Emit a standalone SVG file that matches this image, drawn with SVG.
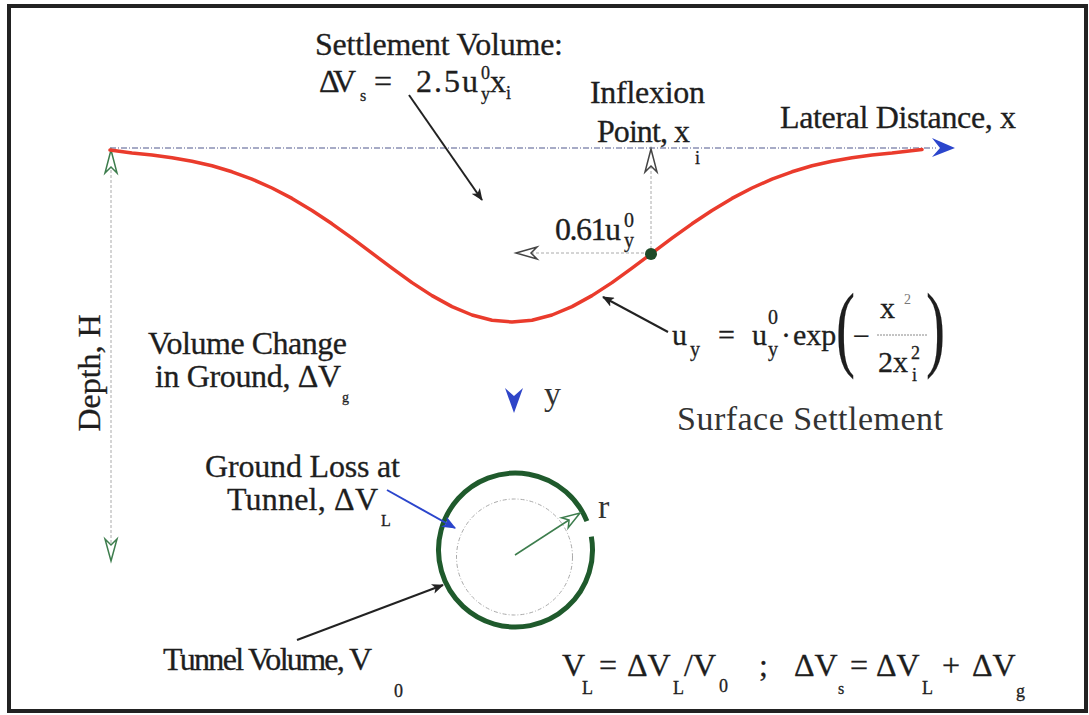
<svg xmlns="http://www.w3.org/2000/svg" width="1089" height="715" viewBox="0 0 1089 715">
<style>
.t{font-family:"Liberation Serif","Times New Roman",serif;font-size:30px;fill:#1e1e1e;stroke:#1e1e1e;stroke-width:0.3}
.l{font-size:32px}
.s{font-size:18px}
.s14{font-size:14px}
.s16{font-size:16px}
.s20{font-size:20px}
.par{font-size:95px;stroke-width:0.2}
.c{font-family:"Liberation Serif","Times New Roman",serif;font-size:34px;fill:#333}
.ld{stroke:#222;stroke-width:2;fill:none}
.open{fill:#fff;stroke:#444;stroke-width:1.5}
.openg{fill:#fff;stroke:#3d7d4d;stroke-width:1.5}
</style>
<defs>
<marker id="ab" viewBox="0 0 12 10" refX="11" refY="5" markerWidth="12" markerHeight="10" markerUnits="userSpaceOnUse" orient="auto">
<path d="M0,0 L12,5 L0,10 L3,5 z" fill="#222"/>
</marker>
<marker id="abl" viewBox="0 0 12 10" refX="11" refY="5" markerWidth="14" markerHeight="12" markerUnits="userSpaceOnUse" orient="auto">
<path d="M0,0 L12,5 L0,10 L3,5 z" fill="#2b45cc"/>
</marker>
</defs>
<rect x="0" y="0" width="1089" height="715" fill="#fff"/>
<rect x="9" y="6" width="1077" height="705" fill="#fff" stroke="#222" stroke-width="4"/>

<g id="axes">
<line x1="110" y1="148" x2="936" y2="148" stroke="#8a90b4" stroke-width="1.3" stroke-dasharray="6 2 1 2"/>
<polygon points="932,138 955,148 932,157 940,148" fill="#2b45cc"/>
<line x1="111" y1="150" x2="111" y2="560" stroke="#aaa" stroke-width="1" stroke-dasharray="3 2"/>
<polygon class="openg" points="111,150 117,173 111,167 105,173"/>
<polygon class="openg" points="111,561 117,539 111,545 105,539"/>
<text class="t l" transform="translate(100,373) rotate(-90)" text-anchor="middle" textLength="117">Depth, H</text>
<polygon points="505,388 514,396 523,388 514,413" fill="#2f45c8"/>
<text class="c" x="544" y="405">y</text>
<text class="t l" x="780" y="128" textLength="236">Lateral Distance, x</text>
</g>

<g id="curve">
<path d="M110,150 L132,153.1 L152,155 L172,157.7 L192,161.2 L212,165.8 L232,171.8 L252,179.1 L272,188 L292,198.4 L312,210.5 L332,223.8 L352,238.2 L372,253.2 L392,268.2 L412,282.6 L432,295.6 L452,306.6 L472,315 L492,320.2 L512,322 L532,320.2 L552,315 L572,306.6 L592,295.6 L612,282.6 L632,268.2 L652,253.2 L672,238.2 L692,223.8 L712,210.5 L732,198.4 L752,188 L772,179.1 L792,171.8 L812,165.8 L832,161.2 L852,157.7 L872,155 L892,153.1 L922,149.5" fill="none" stroke="#ea3b2c" stroke-width="3.5" stroke-linejoin="round" stroke-linecap="round"/>
</g>

<g id="inflexion">
<line x1="651" y1="166" x2="651" y2="254" stroke="#aaa" stroke-width="1" stroke-dasharray="3 2"/>
<polygon class="open" points="651,149 657,172 651,166 645,172"/>
<line x1="531" y1="253" x2="651" y2="253" stroke="#aaa" stroke-width="1" stroke-dasharray="3 2"/>
<polygon class="open" points="516,253 537,247 531,253 537,259"/>
<circle cx="651" cy="254" r="6" fill="#1f4a28"/>
<text class="t l" x="590" y="103" textLength="115">Inflexion</text>
<text class="t l" x="597" y="142" textLength="93">Point, x</text>
<text class="t s" x="695" y="164">i</text>
<text class="t l" x="555" y="240" textLength="66">0.61u</text>
<text class="t s20" x="624" y="227">0</text>
<text class="t s20" x="624" y="247">y</text>
</g>

<g id="settlement-volume">
<text class="t l" x="315" y="55" textLength="248">Settlement Volume:</text>
<text class="t l" x="319" y="92" textLength="37">ΔV</text>
<text class="t s16" x="360" y="101">s</text>
<text class="t l" x="374" y="92">=</text>
<text class="t l" x="416" y="92" textLength="62">2.5u</text>
<text class="t s" x="481" y="79">0</text>
<text class="t s" x="481" y="100">y</text>
<text class="t l" x="490" y="92">x</text>
<text class="t s" x="506" y="99">i</text>
</g>

<g id="formula">
<text class="t" x="672" y="345">u</text>
<text class="t s20" x="690" y="356">y</text>
<text class="t" x="718" y="345">=</text>
<text class="t" x="752" y="345">u</text>
<text class="t s20" x="768" y="324">0</text>
<text class="t s20" x="768" y="356">y</text>
<text class="t" x="781" y="345">·</text>
<text class="t" x="793" y="345">exp</text>
<text class="t par" transform="translate(836,359) scale(0.6,1)">(</text>
<text class="t" x="853" y="346">−</text>
<text class="t" x="880" y="318">x</text>
<text class="t s14" x="904" y="304" style="fill:#777;stroke:none">2</text>
<line x1="877" y1="335" x2="927" y2="335" stroke="#888" stroke-width="1" stroke-dasharray="2 1"/>
<text class="t" x="878" y="372">2x</text>
<text class="t s" x="911" y="359">2</text>
<text class="t s" x="912" y="381">i</text>
<text class="t par" transform="translate(926,359) scale(0.6,1)">)</text>
<text class="c" x="677" y="430" textLength="266">Surface Settlement</text>
</g>

<g id="volume-change">
<text class="t l" x="148" y="354" textLength="199">Volume Change</text>
<text class="t l" x="155" y="387" textLength="186">in Ground, ΔV</text>
<text class="t s14" x="342" y="402">g</text>
</g>

<g id="tunnel">
<circle cx="514.5" cy="557" r="58" fill="none" stroke="#aaa" stroke-width="1" stroke-dasharray="4 2 1 2"/>
<path d="M591.33,536.63 A77,77 0 1 1 586.89,521.16" fill="none" stroke="#1f5a2c" stroke-width="5"/>
<line x1="515" y1="555" x2="569" y2="520" stroke="#3d7d4d" stroke-width="1.5"/>
<polygon class="openg" points="580,513 568.2,527.8 569.1,520.1 561.6,517.8"/>
<text class="c" x="598" y="518">r</text>
<text class="t l" x="205" y="477" textLength="195">Ground Loss at</text>
<text class="t l" x="227" y="510" textLength="151">Tunnel, ΔV</text>
<text class="t s16" x="381" y="526">L</text>
<text class="t l" x="163" y="670" textLength="209">Tunnel Volume, V</text>
<text class="t s" x="394" y="697">0</text>
</g>

<g id="bottom-formula">
<text class="t l" x="562" y="676">V</text>
<text class="t s" x="582" y="694">L</text>
<text class="t l" x="599" y="676">=</text>
<text class="t l" x="627" y="676">ΔV</text>
<text class="t s" x="673" y="694">L</text>
<text class="t l" x="684" y="676">/V</text>
<text class="t s" x="719" y="692">0</text>
<text class="t l" x="759" y="676">;</text>
<text class="t l" x="794" y="676">ΔV</text>
<text class="t s16" x="838" y="694">s</text>
<text class="t l" x="850" y="676">=</text>
<text class="t l" x="876" y="676">ΔV</text>
<text class="t s" x="922" y="694">L</text>
<text class="t l" x="942" y="676">+</text>
<text class="t l" x="972" y="676">ΔV</text>
<text class="t s" x="1016" y="697">g</text>
</g>

<g id="connectors">
<line class="ld" x1="409" y1="95" x2="482" y2="200" marker-end="url(#ab)"/>
<line class="ld" x1="668" y1="332" x2="603" y2="297" marker-end="url(#ab)"/>
<line x1="387" y1="490" x2="455" y2="528" stroke="#2b45cc" stroke-width="2" marker-end="url(#abl)"/>
<line class="ld" x1="297" y1="640" x2="443" y2="585" marker-end="url(#ab)"/>
</g>
</svg>
